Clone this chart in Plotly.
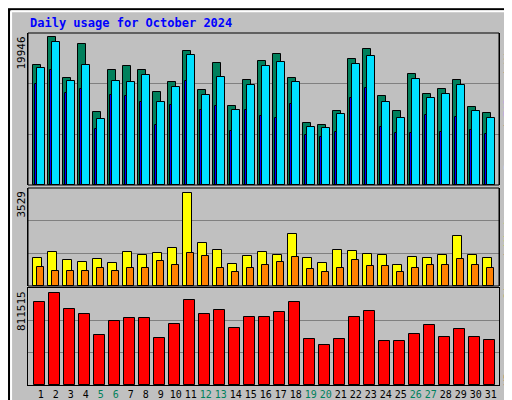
import plotly.graph_objects as go

days = list(range(1, 32))
weekend = [5, 6, 12, 13, 19, 20, 26, 27]

hits = [16250, 19946, 14400, 19000, 9800, 15490, 16030, 15490, 12510, 13870, 18060,
        12780, 16440, 10620, 14140, 16710, 17660, 14400, 8310, 8040, 9940, 16980,
        18330, 11970, 9940, 14950, 12240, 12920, 14140, 10480, 9670]
files = [15760, 19280, 14000, 16170, 8860, 14000, 13870, 14810, 11160, 13190, 17520,
         12100, 14540, 10070, 13460, 16030, 16570, 13870, 7770, 7640, 9530, 16300,
         17390, 11160, 8990, 14270, 11700, 12240, 13460, 9940, 8990]
pages = [13600, 15490, 12380, 12920, 7500, 12100, 11970, 11160, 8040, 10750, 14000,
         10070, 10620, 7230, 10070, 9260, 8990, 10890, 6690, 6420, 7100, 11700,
         13050, 7770, 6960, 6960, 9400, 7100, 9130, 7370, 6830]
sites = [1045, 1274, 968, 892, 1006, 854, 1274, 1159, 1236, 1427, 3529, 1618, 1350,
         815, 1121, 1274, 1159, 1962, 1045, 854, 1350, 1312, 1198, 1159, 777, 1083,
         1045, 1159, 1885, 1159, 1045]
visits = [701, 586, 586, 586, 662, 586, 662, 662, 930, 777, 1236, 1121, 662, 548, 662,
          777, 892, 1083, 624, 548, 662, 968, 739, 739, 548, 662, 777, 777, 1006, 777, 662]
kbytes = [731600, 811515, 669400, 625000, 438400, 562800, 589400, 589400, 411700,
          536100, 749400, 625000, 660500, 500600, 598300, 598300, 642800, 731600,
          402800, 349500, 402800, 598300, 651600, 385100, 385100, 447300, 527200,
          420600, 491700, 420600, 393900]

GRAY = "#C0C0C0"
FONT = "DejaVu Sans Mono"

fig = go.Figure()

def bars(y, color, offset, width, yaxis):
    fig.add_trace(go.Bar(x=days, y=y, marker=dict(color=color, line=dict(color="black", width=1)),
                         offset=offset, width=width, yaxis=yaxis, xaxis="x"))

bars(hits, "#00805C", -0.25, 0.49, "y3")
bars(files, "#00E0FF", 0.017, 0.49, "y3")
bars(pages, "#0000FF", -0.117, 0.13, "y3")
bars(sites, "#FFFF00", -0.25, 0.56, "y2")
bars(visits, "#FF8000", 0.017, 0.45, "y2")
bars(kbytes, "#FF0000", -0.18, 0.69, "y")

ticktext = [f"<span style='color:#00805C'>{d}</span>" if d in weekend else str(d) for d in days]

def yax(dom, top):
    return dict(domain=dom, range=[0, top], dtick=top / 3, showticklabels=False,
                showgrid=True, gridcolor="#808080", gridwidth=1, zeroline=False,
                showline=True, linecolor="black", mirror=True, anchor="x", fixedrange=True,
                automargin=False)

fig.update_layout(
    width=512, height=400, margin=dict(l=0, r=0, t=0, b=0, autoexpand=False),
    paper_bgcolor=GRAY, plot_bgcolor=GRAY, barmode="overlay", showlegend=False,
    bargap=0,
    font=dict(family=FONT, size=11, color="black"),
    xaxis=dict(domain=[20 / 512, 491 / 512], range=[0.397, 31.797], tickvals=[d + 0.25 for d in days],
               ticktext=ticktext, ticks="", tickangle=0, automargin=False, showgrid=False,
               showline=True, linecolor="black", mirror=True, anchor="y",
               tickfont=dict(size=10, family=FONT)),
    yaxis=yax([0.0575, 0.30], 853290),
    yaxis2=yax([0.305, 0.55], 3705),
    yaxis3=yax([0.5575, 0.9375], 20527),
)

# overlay panel frames for middle/top panels
for y0, y1 in [(0.305, 0.55), (0.5575, 0.9375)]:
    fig.add_shape(type="rect", xref="paper", yref="paper", x0=20 / 512, x1=491 / 512,
                  y0=y0, y1=y1, line=dict(color="black", width=1))

# outer bevel
fig.add_shape(type="rect", xref="paper", yref="paper", x0=0.002, x1=0.998, y0=0.003, y1=0.997,
              line=dict(color="black", width=2))
fig.add_shape(type="line", xref="paper", yref="paper", x0=0.006, x1=0.006, y0=0.012, y1=0.992,
              line=dict(color="white", width=2))
fig.add_shape(type="line", xref="paper", yref="paper", x0=0.006, x1=0.99, y0=0.992, y1=0.992,
              line=dict(color="white", width=2))
fig.add_shape(type="line", xref="paper", yref="paper", x0=0.99, x1=0.99, y0=0.012, y1=0.992,
              line=dict(color="#808080", width=6))
fig.add_shape(type="line", xref="paper", yref="paper", x0=0.006, x1=0.994, y0=0.012, y1=0.012,
              line=dict(color="#808080", width=6))

ann = [
    dict(x=20 / 512, y=385 / 400, text="<b>Daily usage for October 2024</b>", xanchor="left",
         yanchor="middle", textangle=0, font=dict(color="#0000FF", size=12)),
    dict(x=13 / 512, y=(400 - 27) / 400, text="19946", textangle=-90, yanchor="top"),
    dict(x=13 / 512, y=(400 - 181) / 400, text="3529", textangle=-90, yanchor="top"),
    dict(x=13 / 512, y=(400 - 281) / 400, text="811515", textangle=-90, yanchor="top"),
    dict(x=500 / 512, y=(400 - 28) / 400, textangle=-90, yanchor="top",
         text="<span style='color:#00E0FF'>Pages</span> / <span style='color:#0000FF'>Files</span>"
              " / <span style='color:#00805C'>Hits</span>"),
    dict(x=500 / 512, y=(400 - 197) / 400, textangle=-90, yanchor="top",
         text="<span style='color:#FF8000'>Sites</span> / <span style='color:#FFFF00'>Visits</span>"),
    dict(x=500 / 512, y=(400 - 336) / 400, textangle=-90, yanchor="top",
         text="<span style='color:#FF0000'>KBytes</span>"),
]
for a in ann:
    a.setdefault("xanchor", "center")
    fig.add_annotation(xref="paper", yref="paper", showarrow=False, **a)

fig.write_html("out.html")
